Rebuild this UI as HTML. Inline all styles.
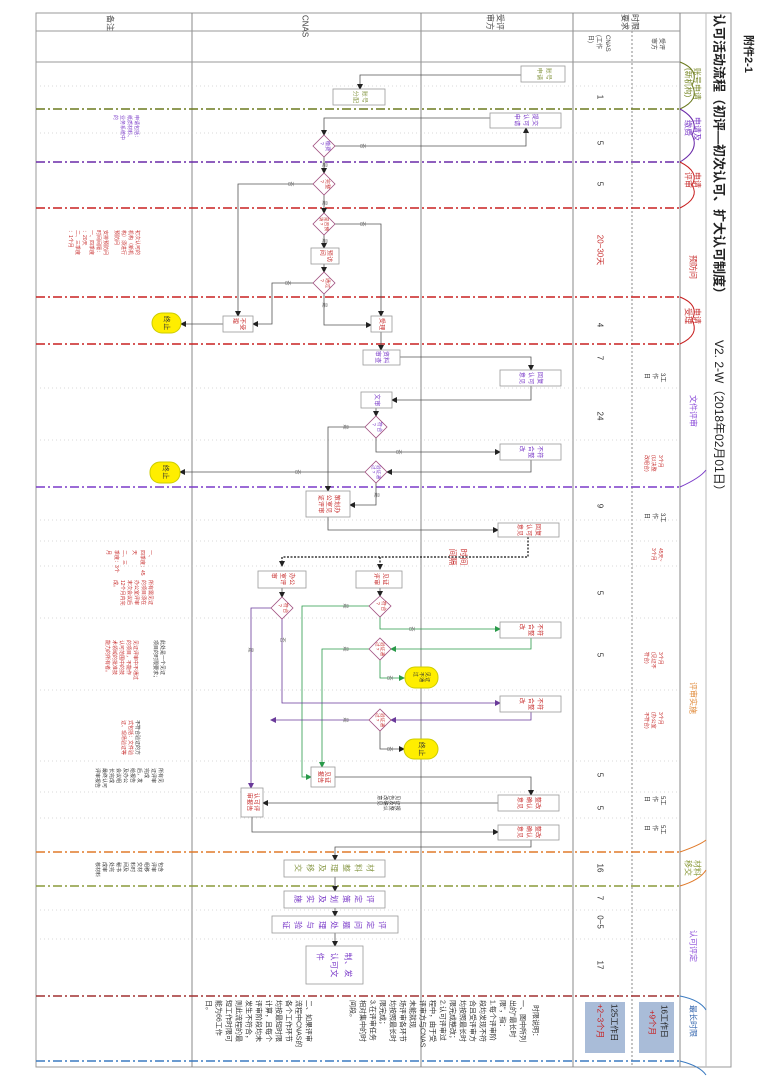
<!DOCTYPE html>
<html><head><meta charset="utf-8"><style>
html,body{margin:0;padding:0;background:#fff;}
svg{display:block;font-family:"Liberation Sans","Noto Sans CJK SC",sans-serif;}
</style></head><body>
<svg id="s" width="764" height="1080" viewBox="0 0 764 1080" xmlns="http://www.w3.org/2000/svg">
<defs>
<marker id="a" markerWidth="6" markerHeight="6" refX="5" refY="3" orient="auto" markerUnits="userSpaceOnUse"><path d="M0,0 L6,3 L0,6z" fill="#222"/></marker>
<marker id="ag" markerWidth="6" markerHeight="6" refX="5" refY="3" orient="auto" markerUnits="userSpaceOnUse"><path d="M0,0 L6,3 L0,6z" fill="#2a9a4a"/></marker>
<marker id="ap" markerWidth="6" markerHeight="6" refX="5" refY="3" orient="auto" markerUnits="userSpaceOnUse"><path d="M0,0 L6,3 L0,6z" fill="#6a3a9a"/></marker>
</defs>
<rect width="764" height="1080" fill="#fff"/>
<rect x="36" y="13" width="695" height="1054" fill="none" stroke="#999" stroke-width="1"/>
<line x1="192" y1="13" x2="192" y2="1067" stroke="#888"/>
<line x1="421" y1="13" x2="421" y2="1067" stroke="#888"/>
<line x1="573" y1="13" x2="573" y2="1067" stroke="#888"/>
<line x1="632" y1="31" x2="632" y2="1067" stroke="#888" stroke-dasharray="2 2"/>
<line x1="680" y1="13" x2="680" y2="1067" stroke="#888"/>
<line x1="706" y1="13" x2="706" y2="1067" stroke="#bbb"/>
<line x1="36" y1="31" x2="680" y2="31" stroke="#999"/>
<line x1="36" y1="62" x2="680" y2="62" stroke="#999"/>
<g stroke="#ccc" stroke-dasharray="1 3" stroke-width="0.8">
<line x1="36" y1="86" x2="680" y2="86"/><line x1="36" y1="133" x2="680" y2="133"/>
<line x1="36" y1="388" x2="680" y2="388"/><line x1="36" y1="440" x2="680" y2="440"/>
<line x1="36" y1="520" x2="680" y2="520"/><line x1="36" y1="541" x2="680" y2="541"/>
<line x1="36" y1="566" x2="680" y2="566"/><line x1="36" y1="618" x2="680" y2="618"/>
<line x1="36" y1="690" x2="680" y2="690"/><line x1="36" y1="761" x2="680" y2="761"/>
<line x1="36" y1="792" x2="680" y2="792"/><line x1="36" y1="818" x2="680" y2="818"/>
<line x1="36" y1="910" x2="680" y2="910"/><line x1="36" y1="939" x2="680" y2="939"/>
</g>
<g stroke-width="1.6" stroke-dasharray="9 3 2 3" fill="none">
<line x1="36" y1="109" x2="680" y2="109" stroke="#6b7a1e"/>
<line x1="36" y1="162" x2="680" y2="162" stroke="#6a2aa8"/>
<line x1="36" y1="208" x2="680" y2="208" stroke="#c82020"/>
<line x1="36" y1="297" x2="680" y2="297" stroke="#c82020"/>
<line x1="36" y1="344" x2="680" y2="344" stroke="#c82020"/>
<line x1="36" y1="487" x2="680" y2="487" stroke="#7a3ac8"/>
<line x1="36" y1="852" x2="680" y2="852" stroke="#e07a2a"/>
<line x1="36" y1="886" x2="680" y2="886" stroke="#8a9a3a"/>
<line x1="36" y1="996" x2="680" y2="996" stroke="#a03030"/>
<line x1="36" y1="1061" x2="680" y2="1061" stroke="#3a7ac0"/>
</g>
<g fill="none" stroke-width="1">
<path d="M680,62 Q700,70 692,85 Q700,100 680,109" stroke="#6b7a1e"/>
<path d="M680,109 Q700,120 692,135 Q700,150 680,162" stroke="#6a2aa8"/>
<path d="M680,162 Q700,172 692,185 Q700,198 680,208" stroke="#c82020"/>
<path d="M680,297 Q700,305 692,320 Q700,335 680,344" stroke="#c82020"/>
<path d="M680,487 Q700,478 706,470" stroke="#7a3ac8"/>
<path d="M680,852 Q700,845 706,840 M680,886 Q700,880 706,870" stroke="#e07a2a"/>
<path d="M680,996 Q700,1000 706,1010 M680,1061 Q700,1066 706,1075" stroke="#3a7ac0"/>
</g>
<g font-size="13" font-weight="bold" fill="#222">
<text transform="translate(719,14) rotate(90)" dominant-baseline="central">认可活动流程（初评—初次认可、扩大认可制度）</text>
<text transform="translate(719,340) rotate(90)" dominant-baseline="central" font-weight="normal" font-size="12">V2. 2-W（2018年02月01日）</text>
<text transform="translate(748,35) rotate(90)" dominant-baseline="central" font-size="11">附件2-1</text>
</g>
<g font-size="8" fill="#444" dominant-baseline="central">
<text transform="translate(110,15) rotate(90)">备注</text>
<text transform="translate(305,15) rotate(90)">CNAS</text>
<text transform="translate(500,14) rotate(90)">受评</text><text transform="translate(490,14) rotate(90)">审方</text>
<text transform="translate(635,14) rotate(90)">时限</text><text transform="translate(625,14) rotate(90)">要求</text>
<text transform="translate(607,35) rotate(90)" font-size="6">CNAS</text><text transform="translate(598,35) rotate(90)" font-size="6">(工作</text><text transform="translate(590,35) rotate(90)" font-size="6">日)</text>
<text transform="translate(661,38) rotate(90)" font-size="6">受评</text><text transform="translate(653,38) rotate(90)" font-size="6">审方</text>
</g>
<g font-size="8" dominant-baseline="central">
<text transform="translate(697,68) rotate(90)" fill="#7a8a2a">账号申请</text><text transform="translate(688,68) rotate(90)" fill="#7a8a2a">(新机构)</text>
<text transform="translate(697,117) rotate(90)" fill="#7a3ac8">申请及</text><text transform="translate(688,120) rotate(90)" fill="#7a3ac8">缴费</text>
<text transform="translate(697,172) rotate(90)" fill="#c83030">申请</text><text transform="translate(688,172) rotate(90)" fill="#c83030">评审</text>
<text transform="translate(693,255) rotate(90)" fill="#c83030">预防问</text>
<text transform="translate(697,308) rotate(90)" fill="#c83030">申请</text><text transform="translate(688,308) rotate(90)" fill="#c83030">受理</text>
<text transform="translate(693,395) rotate(90)" fill="#8a4ad8">文件评审</text>
<text transform="translate(693,682) rotate(90)" fill="#e08a3a">评审实施</text>
<text transform="translate(697,860) rotate(90)" fill="#8a9a3a">材料</text><text transform="translate(688,860) rotate(90)" fill="#8a9a3a">移交</text>
<text transform="translate(693,930) rotate(90)" fill="#8a4ad8">认可评定</text>
<text transform="translate(693,1005) rotate(90)" fill="#3a6ab0">最长时限</text>
</g>
<g font-size="8" fill="#333" dominant-baseline="central" text-anchor="middle">
<text transform="translate(600,97) rotate(90)">1</text>
<text transform="translate(600,143) rotate(90)">5</text>
<text transform="translate(600,184) rotate(90)">5</text>
<text transform="translate(600,250) rotate(90)" fill="#c83030">20~30天</text>
<text transform="translate(600,325) rotate(90)">4</text>
<text transform="translate(600,358) rotate(90)">7</text>
<text transform="translate(600,416) rotate(90)">24</text>
<text transform="translate(600,506) rotate(90)">9</text>
<text transform="translate(600,593) rotate(90)">5</text>
<text transform="translate(600,655) rotate(90)">5</text>
<text transform="translate(600,775) rotate(90)">5</text>
<text transform="translate(600,808) rotate(90)">5</text>
<text transform="translate(600,868) rotate(90)">16</text>
<text transform="translate(600,898) rotate(90)">7</text>
<text transform="translate(600,922) rotate(90)">0~5</text>
<text transform="translate(600,965) rotate(90)">17</text>
</g>
<g font-size="6" fill="#333" dominant-baseline="central">
<text transform="translate(662,373) rotate(90)">3工</text><text transform="translate(654,373) rotate(90)">作</text><text transform="translate(646,373) rotate(90)">日</text>
<text transform="translate(662,513) rotate(90)">3工</text><text transform="translate(654,513) rotate(90)">作</text><text transform="translate(646,513) rotate(90)">日</text>
<text transform="translate(662,796) rotate(90)">5工</text><text transform="translate(654,796) rotate(90)">作</text><text transform="translate(646,796) rotate(90)">日</text>
<text transform="translate(662,825) rotate(90)">5工</text><text transform="translate(654,825) rotate(90)">作</text><text transform="translate(646,825) rotate(90)">日</text>
<g fill="#c83030" font-size="5">
<text transform="translate(660,455) rotate(90)">3个月</text><text transform="translate(653,455) rotate(90)">(以决整</text><text transform="translate(646,455) rotate(90)">改组合)</text>
<text transform="translate(660,548) rotate(90)">45天~</text><text transform="translate(653,548) rotate(90)">3个月</text>
<text transform="translate(660,652) rotate(90)">3个月</text><text transform="translate(653,652) rotate(90)">(见证不</text><text transform="translate(646,652) rotate(90)">符合)</text>
<text transform="translate(660,712) rotate(90)">3个月</text><text transform="translate(653,712) rotate(90)">(办公室</text><text transform="translate(646,712) rotate(90)">不符合)</text>
</g></g>
<rect x="639" y="1002" width="35" height="51" fill="#a9bcd8"/>
<rect x="585" y="1002" width="40" height="51" fill="#a9bcd8"/>
<g font-size="8" dominant-baseline="central">
<text transform="translate(664,1005) rotate(90)" fill="#222">16工作日</text><text transform="translate(652,1010) rotate(90)" fill="#c82020">+9个月</text>
<text transform="translate(614,1004) rotate(90)" fill="#222">125工作日</text><text transform="translate(600,1004) rotate(90)" fill="#c82020">+2~3个月</text>
</g>
<g font-size="7" fill="#333" dominant-baseline="central">
<text transform="translate(535,1005) rotate(90)">时限说明：</text>
<text transform="translate(522,1000) rotate(90)">一、图中所列</text><text transform="translate(512,1000) rotate(90)">出的"最长时</text><text transform="translate(502,1000) rotate(90)">限"，指：</text>
<text transform="translate(492,1000) rotate(90)">1.每个评审阶</text><text transform="translate(482,1000) rotate(90)">段均发现不符</text><text transform="translate(472,1000) rotate(90)">合且受评审方</text><text transform="translate(462,1000) rotate(90)">均按照最长时</text><text transform="translate(452,1000) rotate(90)">限完成整改；</text>
<text transform="translate(442,1000) rotate(90)">2.认可评审过</text><text transform="translate(432,1000) rotate(90)">程中，由于受</text><text transform="translate(422,1000) rotate(90)">评审方与CNAS</text><text transform="translate(412,1000) rotate(90)">未能就现</text><text transform="translate(402,1000) rotate(90)">场评审各环节</text><text transform="translate(392,1000) rotate(90)">均按照最长时</text>
<text transform="translate(382,1000) rotate(90)">限完成；</text><text transform="translate(372,1000) rotate(90)">3.在评审任务</text><text transform="translate(362,1000) rotate(90)">相对集中的时</text><text transform="translate(352,1000) rotate(90)">间段。</text>
<text transform="translate(308,1000) rotate(90)">二、如果评审</text><text transform="translate(298,1000) rotate(90)">流程中CNAS的</text><text transform="translate(288,1000) rotate(90)">各个工作环节</text><text transform="translate(278,1000) rotate(90)">均按最短时限</text><text transform="translate(268,1000) rotate(90)">计算，且每个</text><text transform="translate(258,1000) rotate(90)">评审阶段均未</text><text transform="translate(248,1000) rotate(90)">发生不符合，</text><text transform="translate(238,1000) rotate(90)">则此流程的最</text><text transform="translate(228,1000) rotate(90)">短工作时限可</text><text transform="translate(218,1000) rotate(90)">能为66工作</text><text transform="translate(208,1000) rotate(90)">日。</text>
</g>
<g font-size="5" dominant-baseline="central">
<g fill="#7a3ac8"><text transform="translate(136,115) rotate(90)">申请包括：</text><text transform="translate(129,115) rotate(90)">纸质材料、</text><text transform="translate(122,115) rotate(90)">业务系统中</text><text transform="translate(115,115) rotate(90)">的</text></g>
<g fill="#c83030"><text transform="translate(137,230) rotate(90)">初次认可的</text><text transform="translate(130,230) rotate(90)">机构（新机</text><text transform="translate(123,230) rotate(90)">构）须进行</text><text transform="translate(116,230) rotate(90)">预防问</text>
<text transform="translate(105,230) rotate(90)">安排预防问</text><text transform="translate(98,230) rotate(90)">时间间隔：</text><text transform="translate(91,230) rotate(90)">一、四季度</text><text transform="translate(84,230) rotate(90)">：20天</text><text transform="translate(77,230) rotate(90)">二、三季度</text><text transform="translate(70,230) rotate(90)">：1个月</text>
<text transform="translate(150,550) rotate(90)">一、</text><text transform="translate(142,550) rotate(90)">四季度：45</text><text transform="translate(134,550) rotate(90)">天</text><text transform="translate(124,550) rotate(90)">二、三</text><text transform="translate(116,550) rotate(90)">季度：3个</text><text transform="translate(108,550) rotate(90)">月</text>
<text transform="translate(150,580) rotate(90)">所有需见证</text><text transform="translate(143,580) rotate(90)">的项目须在</text><text transform="translate(136,580) rotate(90)">办公室评审</text><text transform="translate(129,580) rotate(90)">末次会议后</text><text transform="translate(122,580) rotate(90)">12个月内完</text><text transform="translate(115,580) rotate(90)">成。</text>
<text transform="translate(135,640) rotate(90)">见证评审中不通过</text><text transform="translate(128,640) rotate(90)">的项目，不能作</text><text transform="translate(121,640) rotate(90)">认可范围中的技</text><text transform="translate(114,640) rotate(90)">术领域的批准技</text><text transform="translate(107,640) rotate(90)">能力的所有者。</text>
<text transform="translate(130,720) rotate(90)">式包括：文件验</text><text transform="translate(123,720) rotate(90)">证、现场验证等</text></g>
<g fill="#333"><text transform="translate(162,640) rotate(90)">此处是一个见证</text><text transform="translate(155,640) rotate(90)">项目的时限要求；</text>
<text transform="translate(137,720) rotate(90)">不符合验证的方</text>
<text transform="translate(160,768) rotate(90)">所有见</text><text transform="translate(153,768) rotate(90)">证评审</text><text transform="translate(146,768) rotate(90)">完成</text><text transform="translate(139,768) rotate(90)">后，发</text><text transform="translate(132,768) rotate(90)">给报告</text><text transform="translate(125,768) rotate(90)">及办公</text><text transform="translate(118,768) rotate(90)">会议组</text><text transform="translate(111,768) rotate(90)">长完成</text><text transform="translate(104,768) rotate(90)">最终认可</text><text transform="translate(97,768) rotate(90)">评审报告</text>
<text transform="translate(160,862) rotate(90)">包含</text><text transform="translate(153,862) rotate(90)">评审</text><text transform="translate(146,862) rotate(90)">组移</text><text transform="translate(139,862) rotate(90)">交材</text><text transform="translate(132,862) rotate(90)">料时</text><text transform="translate(125,862) rotate(90)">间及</text><text transform="translate(118,862) rotate(90)">秘书</text><text transform="translate(111,862) rotate(90)">处完</text><text transform="translate(104,862) rotate(90)">成审</text><text transform="translate(97,862) rotate(90)">核材料</text></g>
</g>
<g fill="none" stroke="#555" stroke-width="0.8" marker-end="url(#a)">
<polyline points="521,75 360,75 360,89"/>
<polyline points="490,118 324,118 324,135"/>
<polyline points="335,146 526,146 526,128"/>
<polyline points="324,157 324,173"/>
<polyline points="313,184 238,184 238,316"/>
<polyline points="324,195 324,213"/>
<polyline points="335,224 381,224 381,316"/>
<polyline points="324,235 324,248"/>
<polyline points="324,264 324,272"/>
<polyline points="313,283 272,283 272,324 253,324"/>
<polyline points="324,294 324,325 371,325"/>
<polyline points="223,324 181,324"/>
<polyline points="381,332 381,350"/>
<polyline points="400,357 531,357 531,370"/>
<polyline points="531,386 531,400 392,400"/>
<polyline points="376,408 376,416"/>
<polyline points="376,438 376,452 500,452"/>
<polyline points="365,427 328,427 328,491"/>
<polyline points="531,460 531,472 387,472"/>
<polyline points="365,472 180,472"/>
<polyline points="376,483 376,505 350,505"/>
<polyline points="328,517 328,530 498,530"/>
<polyline points="380,588 380,596"/>
<polyline points="282,588 282,597"/>
<polyline points="380,617 380,629 500,629" stroke="#2a9a4a" marker-end="url(#ag)"/>
<polyline points="335,777 531,777 531,795"/>
<polyline points="498,803 263,803"/>
<polyline points="252,817 252,832 498,832"/>
<polyline points="531,840 531,847 335,847 335,860"/>
<polyline points="335,877 335,891"/>
<polyline points="335,908 335,916"/>
<polyline points="335,933 335,946"/>
</g>
<g fill="none" stroke="#111" stroke-width="1.2" stroke-dasharray="2 1.5">
<polyline points="528,537 528,557 282,557 282,566" marker-end="url(#a)"/>
<polyline points="380,557 380,569" marker-end="url(#a)"/>
</g>
<g fill="none" stroke="#2a9a4a" stroke-width="0.8" marker-end="url(#ag)">
<polyline points="369,606 302,606 302,777 311,777"/>
<polyline points="531,638 531,649 391,649"/>
<polyline points="369,649 322,649 322,767"/>
<polyline points="380,660 380,678 404,678"/>
</g>
<g fill="none" stroke="#6a3a9a" stroke-width="0.8" marker-end="url(#ap)">
<polyline points="282,619 282,703 500,703"/>
<polyline points="271,608 251,608 251,788"/>
<polyline points="531,712 531,720 391,720"/>
<polyline points="369,720 271,720"/>
<polyline points="380,731 380,749 404,749" stroke="#555" marker-end="url(#a)"/>
</g>
<g fill="#fff" stroke="#999" stroke-width="0.8">
<rect x="521" y="66" width="44" height="16"/>
<rect x="333" y="89" width="52" height="16"/>
<rect x="490" y="113" width="71" height="15"/>
<rect x="311" y="248" width="28" height="16"/>
<rect x="223" y="316" width="30" height="16"/>
<rect x="371" y="316" width="21" height="16"/>
<rect x="363" y="350" width="37" height="15"/>
<rect x="500" y="370" width="61" height="16"/>
<rect x="361" y="392" width="31" height="16"/>
<rect x="500" y="444" width="61" height="16"/>
<rect x="306" y="491" width="44" height="26"/>
<rect x="498" y="523" width="61" height="14"/>
<rect x="356" y="571" width="46" height="17"/>
<rect x="258" y="571" width="48" height="17"/>
<rect x="500" y="622" width="61" height="16"/>
<rect x="500" y="696" width="61" height="16"/>
<rect x="311" y="767" width="24" height="20"/>
<rect x="498" y="795" width="61" height="16"/>
<rect x="241" y="788" width="22" height="29"/>
<rect x="498" y="825" width="61" height="15"/>
<rect x="284" y="860" width="101" height="17"/>
<rect x="284" y="891" width="101" height="17"/>
<rect x="272" y="916" width="126" height="17"/>
<rect x="306" y="946" width="57" height="38"/>
</g>
<g fill="#fff" stroke="#a05080" stroke-width="0.8">
<polygon points="324,135 335,146 324,157 313,146"/>
<polygon points="324,173 335,184 324,195 313,184"/>
<polygon points="324,213 335,224 324,235 313,224"/>
<polygon points="324,272 335,283 324,294 313,283"/>
<polygon points="376,416 387,427 376,438 365,427"/>
<polygon points="376,461 387,472 376,483 365,472"/>
<polygon points="380,596 391,606 380,617 369,606"/>
<polygon points="282,597 293,608 282,619 271,608"/>
<polygon points="380,638 391,649 380,660 369,649"/>
<polygon points="380,709 391,720 380,731 369,720"/>
</g>
<g fill="#ffee00" stroke="#cc0">
<rect x="152" y="313" width="29" height="20" rx="10"/>
<rect x="150" y="462" width="30" height="21" rx="10"/>
<rect x="405" y="667" width="33" height="21" rx="10"/>
<rect x="404" y="739" width="34" height="20" rx="10"/>
</g>
<g font-size="5" fill="#555" dominant-baseline="central" text-anchor="middle">
<text transform="translate(362,146) rotate(90)">否</text><text transform="translate(324,165) rotate(90)">是</text>
<text transform="translate(290,184) rotate(90)">否</text><text transform="translate(324,203) rotate(90)">是</text>
<text transform="translate(362,224) rotate(90)">否</text><text transform="translate(324,241) rotate(90)">是</text>
<text transform="translate(287,283) rotate(90)">否</text><text transform="translate(324,305) rotate(90)">是</text>
<text transform="translate(345,427) rotate(90)">是</text><text transform="translate(398,452) rotate(90)">否</text>
<text transform="translate(297,472) rotate(90)">否</text><text transform="translate(376,495) rotate(90)">是</text>
<text transform="translate(345,606) rotate(90)">是</text><text transform="translate(411,629) rotate(90)">否</text>
<text transform="translate(345,649) rotate(90)">是</text><text transform="translate(389,678) rotate(90)">否</text>
<text transform="translate(282,640) rotate(90)">否</text><text transform="translate(250,650) rotate(90)">是</text>
<text transform="translate(345,720) rotate(90)">是</text><text transform="translate(389,749) rotate(90)">否</text>
</g>
<g id="labels" dominant-baseline="central" text-anchor="middle"></g>
</svg>
<script>
(function(){
var P="#7a3ac8",R="#c83030",O="#8a9a4a",K="#333";
var L=[
[543,74,"账号申请",2,6,O,9],
[359,97,"账号分配",2,6,O,9],
[525,120,"提交认可申请",2,6,P,9],
[324,146,"缴费?",2,5,P,6],
[324,184,"完整?",2,5,R,6],
[324,224,"是否预访?",3,4.5,R,5],
[325,256,"预访问",2,6,R,7],
[324,283,"通过?",2,5,R,6],
[238,324,"不受理",2,6,R,7],
[381,324,"受理",2,6,R,7],
[381,357,"资料审查",2,6,P,8],
[530,378,"回复认可意见",2,6,P,9],
[376,400,"文审",2,6,P,7],
[376,427,"符合?",2,5,P,6],
[530,452,"不符合整改",2,6,P,9],
[376,472,"验证通过?",3,4.5,P,5],
[328,504,"策划办公室见证评审",3,6,R,8],
[528,530,"回复认可意见",2,6,R,9],
[380,579,"见证评审",2,6,R,9],
[282,579,"办公室评审",2,6,R,9],
[380,606,"符合?",2,5,R,6],
[282,608,"符合?",2,5,R,6],
[530,630,"不符合整改",2,6,R,9],
[380,649,"验证通过?",3,4.5,R,5],
[530,704,"不符合整改",2,6,R,9],
[380,720,"验证通过?",3,4.5,R,5],
[323,777,"见证报告",2,6,R,7],
[528,803,"整改确认意见",2,6,R,9],
[252,802,"认可评审报告",3,6,R,7],
[528,832,"整改确认意见",2,6,R,9],
[334,868,"材料整理及移交",1,8,O,12],
[334,899,"评定策划及实施",1,8,P,12],
[334,925,"评定问题处理与验证",1,8,P,12],
[334,965,"制、发认可文件",3,8,P,14],
[166,323,"终止",2,7,K,8],
[165,472,"终止",2,7,K,8],
[421,677,"见证不通过",2,5,K,6],
[421,749,"终止",2,7,K,8],
[388,803,"见证报告及整改确认意见",3,5,K,6],
[458,557,"时间间隔",2,8,R,11]
];
var g=document.getElementById("labels"),ns="http://www.w3.org/2000/svg";
L.forEach(function(d){
 var cx=d[0],cy=d[1],s=Array.from(d[2]),n=d[3],sz=d[4],col=d[5],lg=d[6];
 var lines=Math.ceil(s.length/n);
 s.forEach(function(ch,i){
  var li=Math.floor(i/n),p=i%n;
  var x=cx+(lines-1)/2*lg-li*lg, y=cy-(n-1)/2*sz*1.05+p*sz*1.05;
  var t=document.createElementNS(ns,"text");
  t.setAttribute("transform","translate("+x.toFixed(1)+","+y.toFixed(1)+") rotate(90)");
  t.setAttribute("font-size",sz);t.setAttribute("fill",col);
  t.textContent=ch;g.appendChild(t);
 });
});
})();
</script>
</body></html>
